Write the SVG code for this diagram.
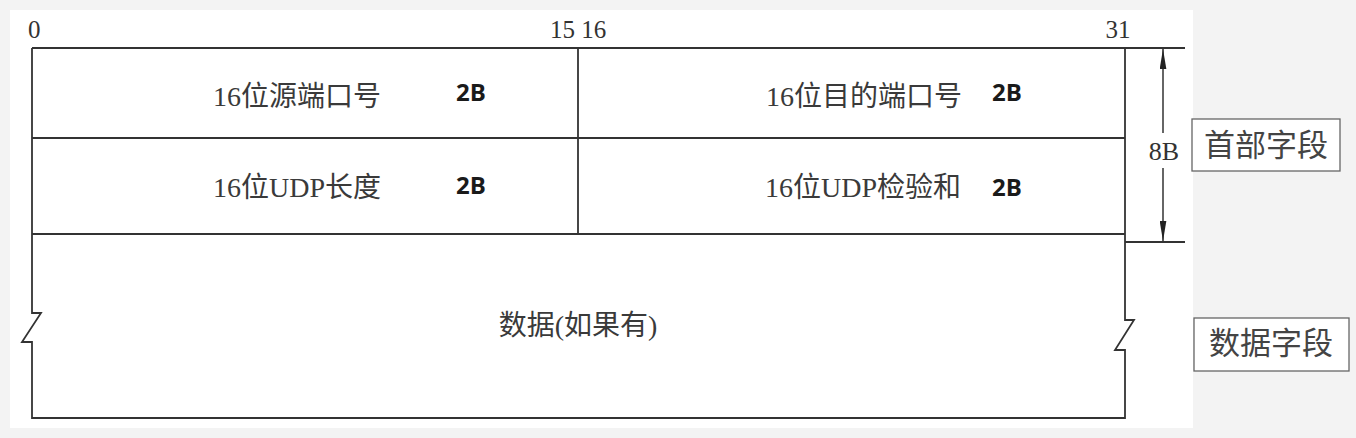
<svg xmlns="http://www.w3.org/2000/svg" width="1356" height="438" viewBox="0 0 1356 438">
<defs>
<style>
.ln{stroke:#333;stroke-width:1.8;fill:none}
.t{font-family:"Liberation Serif","Noto Sans CJK SC",serif;font-size:28px;fill:#3a3a3a}
.b{font-family:"Open Sans","Liberation Sans",sans-serif;font-weight:bold;font-size:24px;fill:#1a1a1a}
.n{font-family:"Liberation Serif",serif;font-size:25px;fill:#333}
.lbl{font-family:"Noto Sans CJK SC",sans-serif;font-size:31px;fill:#444}
.box{fill:#fff;stroke:#666;stroke-width:1.3}
</style>
<marker id="ah" viewBox="0 0 30 10" refX="30" refY="5" markerWidth="20" markerHeight="7" markerUnits="userSpaceOnUse" orient="auto-start-reverse">
<path d="M0,0 L30,5 L0,10 Z" fill="#222"/>
</marker>
</defs>
<rect width="1356" height="438" fill="#f3f3f3"/>
<rect x="10" y="10" width="1183" height="418" fill="#fff"/>
<g id="bit-labels">
<text class="n" x="28" y="38">0</text>
<text class="n" x="578" y="38" text-anchor="middle">15 16</text>
<text class="n" x="1118" y="38" text-anchor="middle">31</text>
</g>
<g id="frame">
<path class="ln" d="M32,48 H1185"/>
<path class="ln" d="M32,48 V313 H41 L22,342 H32 V418 H1125 V350 H1115 L1134,320 H1125 V48"/>
<path class="ln" d="M32,138 H1125 M32,234 H1125 M578,48 V234"/>
<path class="ln" d="M1125,242 H1185"/>
</g>
<g id="src-port">
<text class="t" x="213" y="106">16位源端口号</text>
<text class="b" x="456" y="101">2B</text>
</g>
<g id="dst-port">
<text class="t" x="766" y="106">16位目的端口号</text>
<text class="b" x="992" y="101">2B</text>
</g>
<g id="udp-length">
<text class="t" x="213" y="197">16位UDP长度</text>
<text class="b" x="456" y="194">2B</text>
</g>
<g id="udp-checksum">
<text class="t" x="765" y="197">16位UDP检验和</text>
<text class="b" x="992" y="196">2B</text>
</g>
<g id="data">
<text class="t" x="578" y="335" text-anchor="middle">数据(如果有)</text>
</g>
<g id="connectors">
<line class="ln" x1="1163" y1="49" x2="1163" y2="133" marker-start="url(#ah)" style="stroke-width:1.5"/>
<line class="ln" x1="1163" y1="168" x2="1163" y2="241" marker-end="url(#ah)" style="stroke-width:1.5"/>
</g>
<g id="size-8B">
<text class="n" x="1164" y="160" text-anchor="middle" style="font-size:26px">8B</text>
</g>
<g id="header-field">
<rect class="box" x="1192" y="119" width="148" height="52"/>
<text class="lbl" x="1266" y="156" text-anchor="middle">首部字段</text>
</g>
<g id="data-field">
<rect class="box" x="1194" y="318" width="155" height="53"/>
<text class="lbl" x="1271" y="354" text-anchor="middle">数据字段</text>
</g>
</svg>
